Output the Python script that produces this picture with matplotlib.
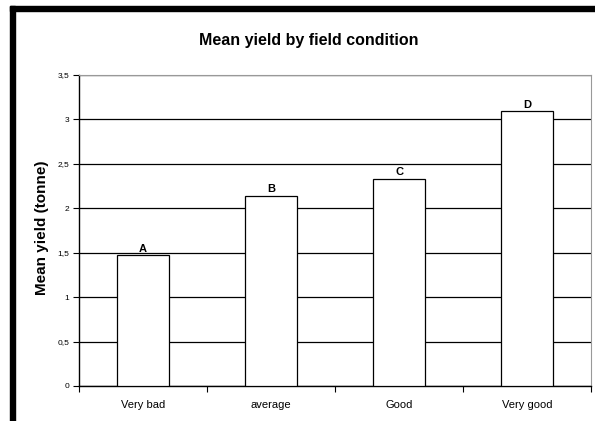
import numpy as np
import matplotlib.pyplot as plt
from matplotlib.patches import Rectangle
from matplotlib.ticker import FuncFormatter

plt.rcParams['font.family'] = ['Liberation Sans', 'DejaVu Sans']

# datos
categorias = ['Very bad', 'average', 'Good', 'Very good']
medias = [1.47, 2.14, 2.33, 3.09]
letras = ['A', 'B', 'C', 'D']

fig = plt.figure(figsize=(5.95, 4.21), dpi=100)
ax = fig.add_axes([79/595, 35/421, 512/595, 311/421])

# marco negro (izquierda y arriba)
fig.patches.append(Rectangle((10/595, 0), 5/595, 415/421, transform=fig.transFigure,
                             color='black', zorder=0))
fig.patches.append(Rectangle((10/595, 410/421), 585/595, 5/421, transform=fig.transFigure,
                             color='black', zorder=0))

x = np.arange(len(categorias))
ax.bar(x, medias, width=0.4, color='white', edgecolor='black', linewidth=0.9, zorder=3)
for xi, m, l in zip(x, medias, letras):
    ax.text(xi, m + 0.02, l, ha='center', va='bottom', fontsize=8, fontweight='bold')

ax.set_xlim(-0.5, 3.5)
ax.set_ylim(0, 3.5)
ax.set_yticks(np.arange(0, 3.51, 0.5))
ax.yaxis.set_major_formatter(FuncFormatter(lambda v, p: ('%g' % v).replace('.', ',')))
ax.grid(axis='y', color='black', linewidth=0.9, zorder=0)

ax.set_xticks(np.arange(-0.5, 3.6, 1))
ax.set_xticklabels([])
ax.set_xticks(x, minor=True)
ax.set_xticklabels(categorias, minor=True, fontsize=8)
ax.tick_params(axis='x', which='minor', length=0, pad=10)
ax.tick_params(axis='x', which='major', length=4, direction='out', width=0.8)
ax.tick_params(axis='y', length=4, labelsize=6, width=0.8, pad=3)

for s in ['top', 'right']:
    ax.spines[s].set_color('#999999')
for s in ['left', 'bottom']:
    ax.spines[s].set_color('black')
    ax.spines[s].set_linewidth(1.0)

fig.text(309/595, 1 - 40/421, 'Mean yield by field condition', ha='center', va='center',
         fontsize=11.5, fontweight='bold')
fig.text(42/595, 1 - 228/421, 'Mean yield (tonne)', ha='center', va='center',
         rotation=90, fontsize=11, fontweight='bold')

fig.savefig('out.png', dpi=100)
